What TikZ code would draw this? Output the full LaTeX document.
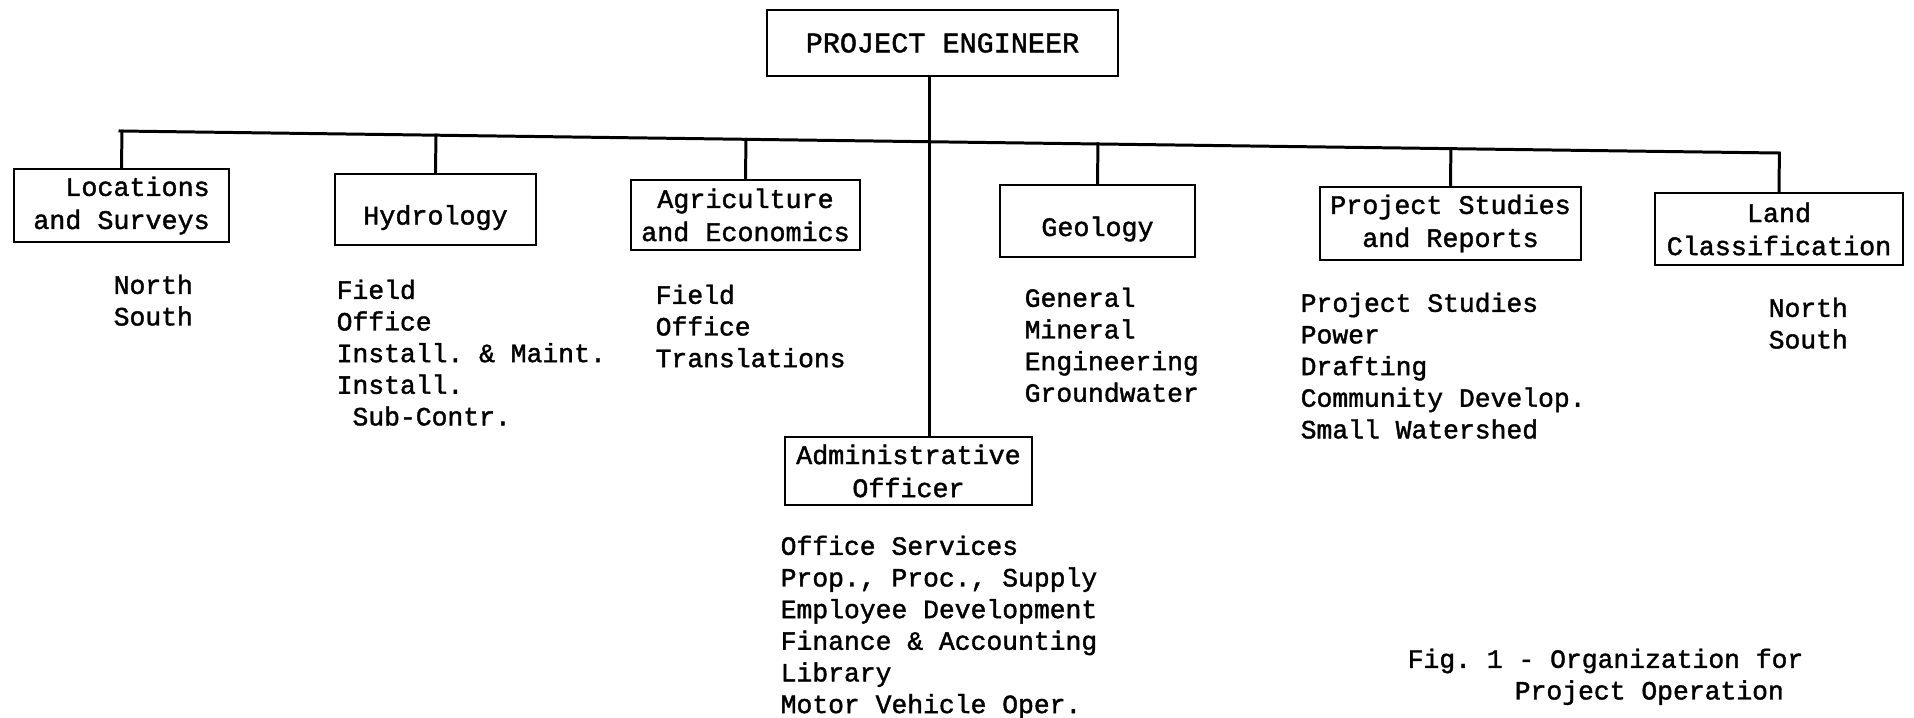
\documentclass[tikz,border=0pt]{standalone}
\usepackage{fontspec}
\usetikzlibrary{calc}
\newfontfamily\typefont[FakeBold=1.5]{Liberation Mono}
\frenchspacing

\begin{document}
\begin{tikzpicture}[x=0.01cm,y=0.01cm,
  unit/.style={draw,line width=0.7pt,inner sep=0pt,align=center,
    font=\typefont\fontsize{7.6}{9.4}\selectfont},
  lowtext/.style={text height=0.3cm,text depth=0pt},
  duties/.style={anchor=north west,inner sep=0pt,align=left,
    font=\typefont\fontsize{7.5}{9}\selectfont},
  link/.style={line width=0.85pt,line cap=rect}]
\useasboundingbox (0,0) rectangle (1914,-718);

% top of the chart
\node[unit,minimum width=3.51cm,minimum height=0.66cm,
  font=\typefont\fontsize{8.1}{9.4}\selectfont] (pe) at (942.5,-43) {PROJECT ENGINEER};

% the divisions
\node[unit,minimum width=2.15cm,minimum height=0.73cm,align=right] (loc) at (121.5,-205.5) {Locations\\and Surveys};
\node[unit,lowtext,minimum width=2.01cm,minimum height=0.71cm] (hyd) at (435.5,-209.5) {Hydrology};
\node[unit,minimum width=2.29cm,minimum height=0.70cm] (agr) at (745.5,-215) {Agriculture\\and Economics};
\node[unit,lowtext,minimum width=1.95cm,minimum height=0.72cm] (geo) at (1097.5,-221) {Geology};
\node[unit,minimum width=2.61cm,minimum height=0.73cm] (ps) at (1450.5,-223.5) {Project Studies\\and Reports};
\node[unit,minimum width=2.48cm,minimum height=0.72cm] (land) at (1779,-229) {Land\\Classification};
\node[unit,minimum width=2.47cm,minimum height=0.68cm] (adm) at (908.5,-471) {Administrative\\Officer};

% sections under each division
\node[duties] (locl) at (113,-274) {North\\South};
\node[duties] (hydl) at (336,-279) {Field\\Office\\Install. \& Maint.\\Install.\\\phantom{x}Sub-Contr.};
\node[duties] (agrl) at (655,-284) {Field\\Office\\Translations};
\node[duties] (geol) at (1024,-287) {General\\Mineral\\Engineering\\Groundwater};
\node[duties] (psl) at (1300,-292) {Project Studies\\Power\\Drafting\\Community Develop.\\Small Watershed};
\node[duties] (landl) at (1768,-297) {North\\South};
\node[duties] (adml) at (780,-535) {Office Services\\Prop., Proc., Supply\\Employee Development\\Finance \& Accounting\\Library\\Motor Vehicle Oper.};

\node[duties] (cap) at (1407,-648) {Fig. 1 - Organization for\\\hspace*{1.07cm}Project Operation};

% bus line and stems
\coordinate (busl) at (120,-131);
\coordinate (busr) at (1778,-153);
\coordinate (trunk) at (929,-76);
\draw[link] (busl) -- (busr);
\draw[link] (pe.south -| trunk) -- (adm.north -| trunk);
\foreach \d in {loc,hyd,agr,geo,ps,land}
  \draw[link] ($(busl)!(\d.north)!(busr)$) -- (\d.north);
\end{tikzpicture}
\end{document}
